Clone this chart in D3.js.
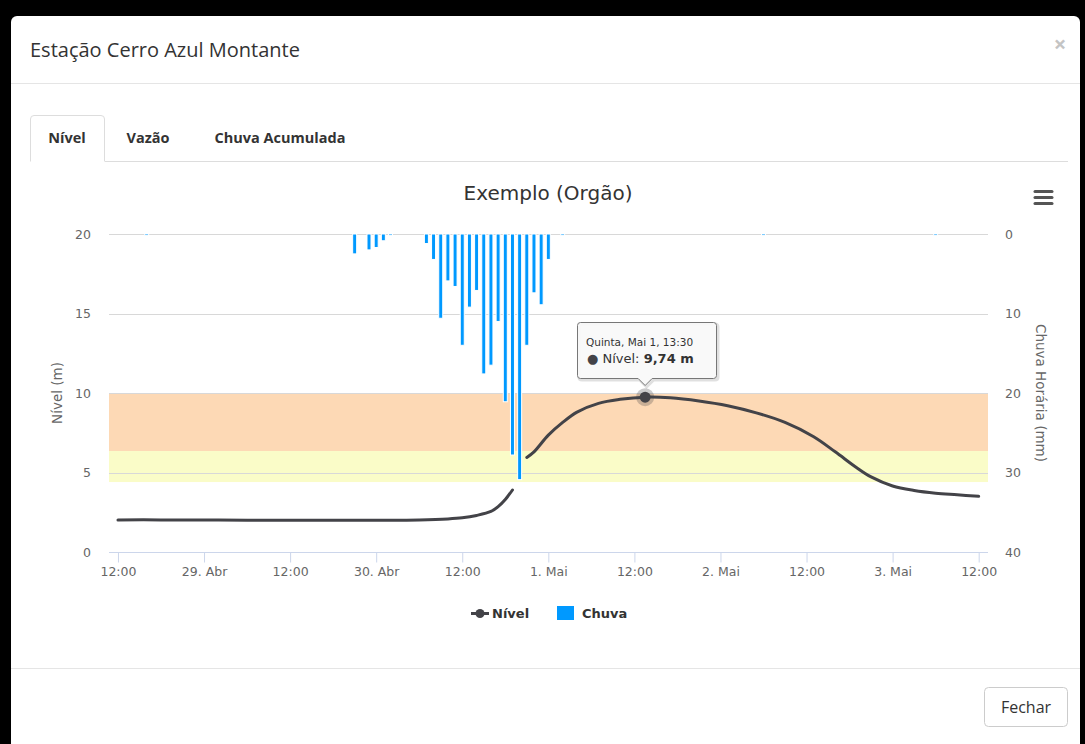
<!DOCTYPE html>
<html lang="pt">
<head>
<meta charset="utf-8">
<title>Estação Cerro Azul Montante</title>
<script src="https://cdn.jsdelivr.net/npm/d3@7"></script>
<style>
  body { margin: 0; background: #000; overflow: hidden; }
  svg { display: block; }
</style>
</head>
<body>
<div id="holder"></div>
<script>
// horas contadas a partir de 28 Abr 2014, 12:00
var base = Date.UTC(2014, 3, 28, 12, 0);

// nível do rio (m) - null marca a falha de leitura
var nivelHoras   = [0, 6, 12, 18, 24, 30, 36, 42, 46, 48, 50, 52, 53, 54, 55,
                    56,
                    57, 58, 60, 62, 64, 67, 70, 73.5, 77, 81, 85, 89, 93, 97, 100, 103, 105, 108, 111, 114, 117, 120];
var nivelValores = [2.02, 2.02, 2.01, 2.0, 2.0, 1.99, 2.0, 2.02, 2.08, 2.15, 2.3, 2.55, 2.85, 3.3, 3.9,
                    null,
                    5.95, 6.3, 7.35, 8.15, 8.8, 9.35, 9.6, 9.74, 9.7, 9.5, 9.2, 8.75, 8.15, 7.25, 6.3, 5.3, 4.72, 4.15, 3.87, 3.7, 3.6, 3.5];

// chuva horária (mm)
var chuvaHoras   = [4, 33, 35, 36, 37, 38, 43, 44, 45, 46, 47, 48, 49, 50, 51, 52, 53, 54, 55, 56, 57, 58, 59, 60, 62, 90, 114];
var chuvaValores = [0.2, 2.5, 2.0, 1.7, 0.85, 0.2, 1.2, 3.2, 10.6, 5.9, 6.6, 14.0, 9.2, 7.1, 17.6, 16.5, 11.0, 21.1, 27.8, 30.9, 14.0, 7.4, 8.9, 3.2, 0.2, 0.2, 0.2];

// faixas de cota (m)
var faixaAlerta  = [6.35, 10];
var faixaAtencao = [4.4, 6.35];

var ticksNivel = [0, 5, 10, 15, 20];
var ticksChuva = [0, 10, 20, 30, 40];
var meses = ["Jan", "Fev", "Mar", "Abr", "Mai", "Jun", "Jul", "Ago", "Set", "Out", "Nov", "Dez"];
var diasSemana = ["Domingo", "Segunda", "Terça", "Quarta", "Quinta", "Sexta", "Sábado"];
var abas = ["Nível", "Vazão", "Chuva Acumulada"];
var pontoDestaque = 73.5;

var W = 1085, H = 744;
var font = "'DejaVu Sans', Verdana, sans-serif";
var uiFont = "'Open Sans', Arial, sans-serif";

function hora(h) { return new Date(base + h * 3600e3); }

var svg = d3.select("#holder").append("svg")
  .attr("width", W)
  .attr("height", H);

// caixa do modal
svg.append("rect")
  .attr("x", 11).attr("y", 16)
  .attr("width", 1069).attr("height", 760)
  .attr("rx", 6)
  .attr("fill", "#fff");

svg.append("text")
  .attr("x", 30).attr("y", 57)
  .attr("font-family", uiFont).attr("font-size", 20)
  .attr("fill", "#333")
  .text("Estação Cerro Azul Montante");

svg.append("text")
  .attr("x", 1060).attr("y", 52)
  .attr("text-anchor", "middle")
  .attr("font-family", uiFont).attr("font-size", 22).attr("font-weight", "bold")
  .attr("fill", "#c4c4c4")
  .text("×");

svg.append("line")
  .attr("x1", 11).attr("x2", 1080).attr("y1", 83.5).attr("y2", 83.5)
  .attr("stroke", "#e5e5e5");

// abas
svg.append("line")
  .attr("x1", 105).attr("x2", 1068).attr("y1", 161.5).attr("y2", 161.5)
  .attr("stroke", "#ddd");
svg.append("path")
  .attr("d", "M30.5,161.5 V119 Q30.5,115.5 34,115.5 H101 Q104.5,115.5 104.5,119 V161.5")
  .attr("fill", "#fff").attr("stroke", "#ddd");

var abaX = [67, 148, 280];
svg.selectAll(".aba").data(abas).enter().append("text")
  .attr("class", "aba")
  .attr("x", function(d, i) { return abaX[i]; })
  .attr("y", 143)
  .attr("text-anchor", "middle")
  .attr("font-family", uiFont).attr("font-size", 14.5).attr("font-weight", "bold")
  .attr("fill", "#333")
  .text(function(d) { return d; });

// rodapé
svg.append("line")
  .attr("x1", 11).attr("x2", 1080).attr("y1", 668.5).attr("y2", 668.5)
  .attr("stroke", "#e5e5e5");
svg.append("rect")
  .attr("x", 984.5).attr("y", 687.5).attr("width", 83).attr("height", 39)
  .attr("rx", 4)
  .attr("fill", "#fff").attr("stroke", "#ccc");
svg.append("text")
  .attr("x", 1026).attr("y", 713)
  .attr("text-anchor", "middle")
  .attr("font-family", uiFont).attr("font-size", 16)
  .attr("fill", "#333")
  .text("Fechar");

// ---------- gráfico ----------
var plotL = 109, plotR = 988, plotT = 234, plotB = 552;

var x = d3.scaleUtc()
  .domain([hora(-1.25), hora(121.3)])
  .range([plotL, plotR]);
var yNivel = d3.scaleLinear().domain([0, 20]).range([plotB, plotT]);
var yChuva = d3.scaleLinear().domain([0, 40]).range([plotT, plotB]);

svg.append("text")
  .attr("x", 548).attr("y", 200)
  .attr("text-anchor", "middle")
  .attr("font-family", font).attr("font-size", 20)
  .attr("fill", "#333")
  .text("Exemplo (Orgão)");

// menu
svg.selectAll(".menu").data([0, 1, 2]).enter().append("line")
  .attr("x1", 1035).attr("x2", 1052)
  .attr("y1", function(d) { return 191.5 + d * 6; })
  .attr("y2", function(d) { return 191.5 + d * 6; })
  .attr("stroke", "#555").attr("stroke-width", 3).attr("stroke-linecap", "round");

// faixas
var faixas = [[faixaAlerta, "#fdd9b5"], [faixaAtencao, "#fafcc8"]];
svg.selectAll(".faixa").data(faixas).enter().append("rect")
  .attr("x", plotL).attr("width", plotR - plotL)
  .attr("y", function(d) { return yNivel(d[0][1]); })
  .attr("height", function(d) { return yNivel(d[0][0]) - yNivel(d[0][1]); })
  .attr("fill", function(d) { return d[1]; });

// grade
svg.selectAll(".grade").data(ticksNivel.slice(1)).enter().append("line")
  .attr("x1", plotL).attr("x2", plotR)
  .attr("y1", function(d) { return Math.round(yNivel(d)) + 0.5; })
  .attr("y2", function(d) { return Math.round(yNivel(d)) + 0.5; })
  .attr("stroke", "#d8d8d8");

// eixo y esquerdo
var eixoE = svg.append("g")
  .attr("transform", "translate(" + plotL + ",0)")
  .call(d3.axisLeft(yNivel).tickValues(ticksNivel).tickSize(0).tickPadding(18));
eixoE.select(".domain").remove();
eixoE.selectAll("text").attr("font-family", font).attr("font-size", 12.5).attr("fill", "#666");

svg.append("text")
  .attr("transform", "translate(62,393) rotate(-90)")
  .attr("text-anchor", "middle")
  .attr("font-family", font).attr("font-size", 13.5)
  .attr("fill", "#666")
  .text("Nível (m)");

// eixo y direito
var eixoD = svg.append("g")
  .attr("transform", "translate(" + plotR + ",0)")
  .call(d3.axisRight(yChuva).tickValues(ticksChuva).tickSize(0).tickPadding(17));
eixoD.select(".domain").remove();
eixoD.selectAll("text").attr("font-family", font).attr("font-size", 12.5).attr("fill", "#666");

svg.append("text")
  .attr("transform", "translate(1036,393) rotate(90)")
  .attr("text-anchor", "middle")
  .attr("font-family", font).attr("font-size", 13.5)
  .attr("fill", "#666")
  .text("Chuva Horária (mm)");

// eixo x
function formatoData(d) {
  if (d.getUTCHours() === 0) return d.getUTCDate() + ". " + meses[d.getUTCMonth()];
  return d3.utcFormat("%H:%M")(d);
}
var eixoX = svg.append("g")
  .attr("transform", "translate(0," + (plotB + 0.5) + ")")
  .call(d3.axisBottom(x).ticks(d3.utcHour.every(12)).tickSize(10).tickPadding(5).tickFormat(formatoData));
eixoX.select(".domain").attr("stroke", "#ccd6eb").attr("d", "M" + plotL + ",0H" + plotR);
eixoX.selectAll(".tick line").attr("stroke", "#ccd6eb");
eixoX.selectAll("text").attr("font-family", font).attr("font-size", 12.5).attr("fill", "#666");

// colunas de chuva
svg.selectAll(".chuva").data(chuvaHoras).enter().append("rect")
  .attr("class", "chuva")
  .attr("x", function(d) { return x(hora(d)) - 2; })
  .attr("y", plotT)
  .attr("width", 4)
  .attr("height", function(d, i) { return yChuva(chuvaValores[i]) - plotT; })
  .attr("fill", "#0099ff")
  .attr("stroke", "#fff").attr("stroke-width", 1);

// linha de nível
var pontos = nivelHoras.map(function(h, i) { return { t: hora(h), v: nivelValores[i] }; });
var linha = d3.line()
  .defined(function(d) { return d.v !== null; })
  .x(function(d) { return x(d.t); })
  .y(function(d) { return yNivel(d.v); })
  .curve(d3.curveCatmullRom.alpha(0.5));
svg.append("path")
  .datum(pontos)
  .attr("d", linha)
  .attr("fill", "none")
  .attr("stroke", "#434348")
  .attr("stroke-width", 3)
  .attr("stroke-linejoin", "round")
  .attr("stroke-linecap", "round");

// ponto destacado + tooltip
var iDest = nivelHoras.indexOf(pontoDestaque);
var px = x(hora(pontoDestaque)), py = yNivel(nivelValores[iDest]);
svg.append("circle").attr("cx", px).attr("cy", py).attr("r", 9)
  .attr("fill", "rgba(67,67,72,0.28)");
svg.append("circle").attr("cx", px).attr("cy", py).attr("r", 5.5)
  .attr("fill", "#434348");

var tx = 577.5, ty = 322.5, tw = 139, th = 56;
var tip = "M" + (tx + 3) + "," + ty + " H" + (tx + tw - 3) + " Q" + (tx + tw) + "," + ty + " " + (tx + tw) + "," + (ty + 3)
  + " V" + (ty + th - 3) + " Q" + (tx + tw) + "," + (ty + th) + " " + (tx + tw - 3) + "," + (ty + th)
  + " H" + (px + 7) + " L" + px + "," + (ty + th + 7) + " L" + (px - 7) + "," + (ty + th)
  + " H" + (tx + 3) + " Q" + tx + "," + (ty + th) + " " + tx + "," + (ty + th - 3)
  + " V" + (ty + 3) + " Q" + tx + "," + ty + " " + (tx + 3) + "," + ty + "Z";
svg.append("path").attr("d", tip)
  .attr("transform", "translate(1.5,1.5)")
  .attr("fill", "none").attr("stroke", "rgba(0,0,0,0.12)").attr("stroke-width", 3);
svg.append("path").attr("d", tip)
  .attr("fill", "rgba(248,248,248,0.92)").attr("stroke", "#777").attr("stroke-width", 1);

var dDest = hora(pontoDestaque);
svg.append("text")
  .attr("x", 586).attr("y", 346)
  .attr("font-family", font).attr("font-size", 10.5).attr("fill", "#333")
  .text(diasSemana[dDest.getUTCDay()] + ", " + meses[dDest.getUTCMonth()] + " " + dDest.getUTCDate() + ", " + d3.utcFormat("%H:%M")(dDest));
var linha2 = svg.append("text")
  .attr("x", 587).attr("y", 363)
  .attr("font-family", font).attr("font-size", 13).attr("fill", "#333");
linha2.append("tspan").attr("fill", "#434348").text("● ");
linha2.append("tspan").text("Nível: ");
linha2.append("tspan").attr("font-weight", "bold").text(d3.format(".2f")(nivelValores[iDest]).replace(".", ",") + " m");

// legenda
var leg = svg.append("g").attr("font-family", font).attr("font-size", 13).attr("font-weight", "bold").attr("fill", "#333");
leg.append("line").attr("x1", 471).attr("x2", 489).attr("y1", 613.5).attr("y2", 613.5)
  .attr("stroke", "#434348").attr("stroke-width", 3);
leg.append("circle").attr("cx", 480).attr("cy", 613.5).attr("r", 4.5).attr("fill", "#434348");
leg.append("text").attr("x", 492).attr("y", 618).text("Nível");
leg.append("rect").attr("x", 557).attr("y", 606).attr("width", 17).attr("height", 14).attr("fill", "#0099ff");
leg.append("text").attr("x", 582).attr("y", 618).text("Chuva");
</script>
</body>
</html>
